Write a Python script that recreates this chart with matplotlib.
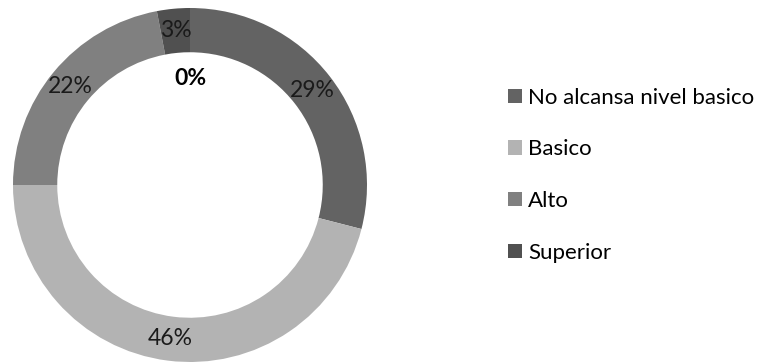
import matplotlib
matplotlib.use("Agg")
import matplotlib.pyplot as plt
from matplotlib.patches import Patch
import numpy as np

plt.rcParams['font.family'] = ['Lato', 'DejaVu Sans']

categories = ['No alcansa nivel basico', 'Basico', 'Alto', 'Superior']
values = [29, 46, 22, 3]
colors = ['#636363', '#b3b3b3', '#808080', '#505050']
center_label = '0%'

fig = plt.figure(figsize=(7.62, 3.62), dpi=100)
ax = fig.add_axes([13 / 762, 0.0, 354 / 762, 354 / 362])

wedges, texts = ax.pie(values, colors=colors, startangle=90, counterclock=False,
                       radius=1.0, wedgeprops=dict(width=0.25, linewidth=0))

# percentage labels in the middle of the ring
total = sum(values)
for w, v in zip(wedges, values):
    ang = np.deg2rad((w.theta1 + w.theta2) / 2)
    r = 0.875
    ax.text(r * np.cos(ang), r * np.sin(ang), f'{v / total * 100:.0f}%',
            ha='center', va='center', fontsize=16.5, color='#1a1a1a')

ax.text(0, 0.6, center_label, ha='center', va='center', fontsize=16.5,
        fontweight='bold', color='black')
ax.set_xlim(-1, 1)
ax.set_ylim(-1, 1)
ax.set_aspect('equal')
ax.axis('off')

handles = [Patch(facecolor=c, edgecolor='none', label=l) for c, l in zip(colors, categories)]
fig.legend(handles=handles, loc='upper left', bbox_to_anchor=(499 / 762, 1 - 79 / 362),
           frameon=False, fontsize=16, handlelength=0.62, handleheight=0.62,
           handletextpad=0.3, labelspacing=1.42, borderaxespad=0)

fig.savefig('out.png', dpi=100)
